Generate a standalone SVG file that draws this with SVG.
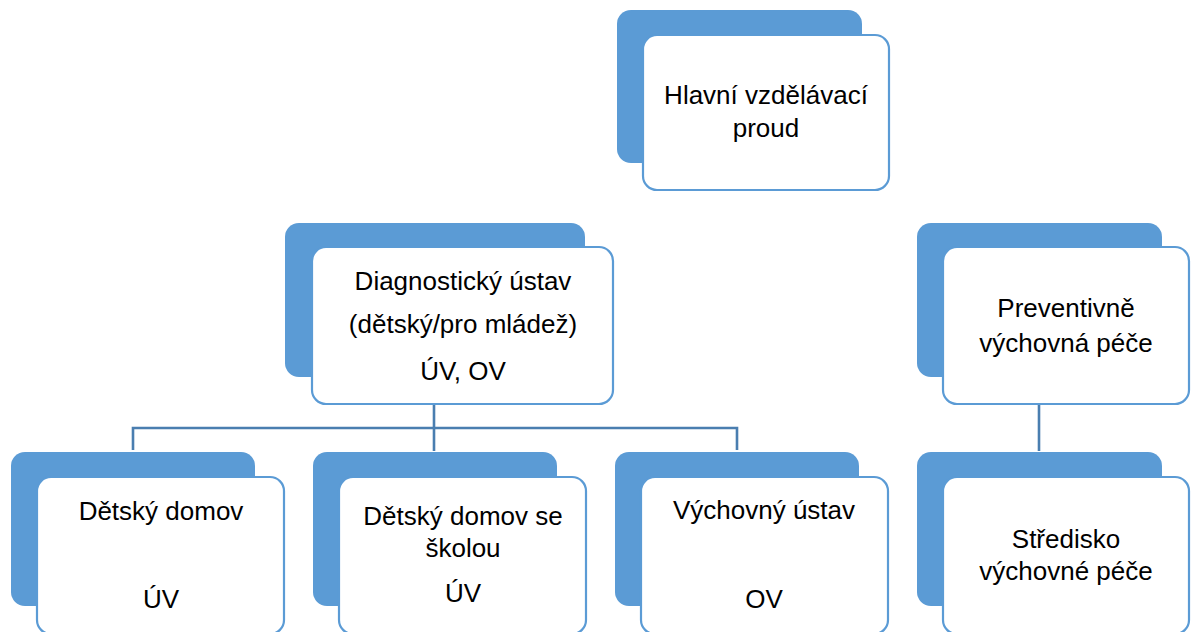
<svg xmlns="http://www.w3.org/2000/svg" width="1191" height="632" viewBox="0 0 1191 632">
<style>
.back{fill:#5B9BD5;}
.front{fill:#FFFFFF;stroke:#5B9BD5;stroke-width:2.2;}
.conn{fill:none;stroke:#4A7EB0;stroke-width:2.6;}
text{font-family:"Liberation Sans",Arial,sans-serif;font-size:26px;fill:#000;text-anchor:middle;}
</style>
<rect width="1191" height="632" fill="#FFFFFF"/>
<g id="connectors">
<line class="conn" x1="434" y1="405" x2="434" y2="451"/>
<polyline class="conn" points="133,450 133,428 737,428 737,450"/>
<line class="conn" x1="1039" y1="405" x2="1039" y2="451"/>
</g>
<g id="node-hlavni">
<rect class="back" x="617" y="10" width="245" height="153" rx="14"/>
<rect class="front" x="643" y="35" width="246" height="155" rx="14"/>
<text x="766" y="104">Hlavní vzdělávací</text>
<text x="766" y="137">proud</text>
</g>
<g id="node-diagnosticky">
<rect class="back" x="285" y="223" width="300" height="154" rx="14"/>
<rect class="front" x="312" y="247" width="301" height="157" rx="14"/>
<text x="463" y="290">Diagnostický ústav</text>
<text x="463" y="333">(dětský/pro mládež)</text>
<text x="463" y="380">ÚV, OV</text>
</g>
<g id="node-preventivne">
<rect class="back" x="917" y="223" width="245" height="154" rx="14"/>
<rect class="front" x="943" y="247" width="246" height="157" rx="14"/>
<text x="1066" y="317">Preventivně</text>
<text x="1066" y="352">výchovná péče</text>
</g>
<g id="node-detsky-domov">
<rect class="back" x="11" y="452" width="244" height="154" rx="14"/>
<rect class="front" x="37" y="477" width="247" height="157" rx="14"/>
<text x="161" y="520">Dětský domov</text>
<text x="161" y="608">ÚV</text>
</g>
<g id="node-detsky-domov-skola">
<rect class="back" x="313" y="452" width="244" height="154" rx="14"/>
<rect class="front" x="339" y="477" width="247" height="157" rx="14"/>
<text x="463" y="525">Dětský domov se</text>
<text x="463" y="557">školou</text>
<text x="463" y="602">ÚV</text>
</g>
<g id="node-vychovny-ustav">
<rect class="back" x="615" y="452" width="244" height="154" rx="14"/>
<rect class="front" x="641" y="477" width="247" height="157" rx="14"/>
<text x="764" y="519">Výchovný ústav</text>
<text x="764" y="608">OV</text>
</g>
<g id="node-stredisko">
<rect class="back" x="917" y="452" width="245" height="154" rx="14"/>
<rect class="front" x="943" y="477" width="246" height="157" rx="14"/>
<text x="1066" y="548">Středisko</text>
<text x="1066" y="580">výchovné péče</text>
</g>
</svg>
